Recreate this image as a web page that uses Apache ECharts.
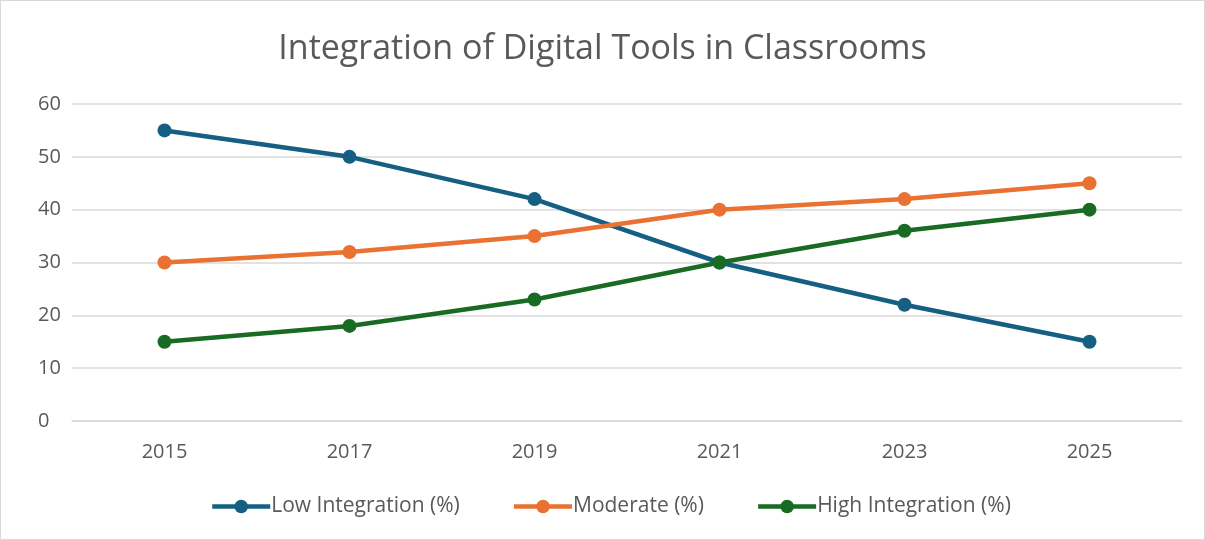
<!DOCTYPE html>
<html>
<head>
<meta charset="utf-8">
<script src="https://cdn.jsdelivr.net/npm/echarts@6/dist/echarts.min.js"></script>
<style>
  html, body { margin: 0; padding: 0; background: #fff; }
  #main { width: 1203px; height: 538px; border: 1px solid #d9d9d9; }
</style>
</head>
<body>
<div id="main"></div>
<script>
var years = ['2015', '2017', '2019', '2021', '2023', '2025'];
var lowIntegration = [55, 50, 42, 30, 22, 15];
var moderate = [30, 32, 35, 40, 42, 45];
var highIntegration = [15, 18, 23, 30, 36, 40];

var chartDom = document.getElementById('main');
var myChart = echarts.init(chartDom);

function lineSeries(name, data, color) {
    return {
        name: name,
        type: 'line',
        data: data,
        symbol: 'circle',
        symbolSize: 14,
        itemStyle: { color: color },
        lineStyle: { width: 4.5, color: color },
        animation: false
    };
}

var option = {
    textStyle: { fontFamily: 'Open Sans' },
    title: {
        text: 'Integration of Digital Tools in Classrooms',
        left: 'center',
        top: 26,
        textStyle: { fontSize: 34, fontWeight: 'normal', color: '#595959', fontFamily: 'Open Sans' }
    },
    legend: {
        bottom: 17,
        left: 204,
        itemWidth: 58,
        itemHeight: 17,
        itemGap: 52,
        lineStyle: { width: 4.5 },
        textStyle: { fontSize: 21, color: '#595959', padding: [0, 0, 0, -4] },
        data: ['Low Integration (%)', 'Moderate (%)', 'High Integration (%)']
    },
    grid: { left: 71, right: 22, top: 103, bottom: 118 },
    xAxis: {
        type: 'category',
        data: years,
        boundaryGap: true,
        axisLine: { lineStyle: { color: '#d9d9d9', width: 1.5 } },
        axisTick: { show: false },
        axisLabel: { fontSize: 20, color: '#595959', margin: 21 }
    },
    yAxis: {
        type: 'value',
        min: 0,
        max: 60,
        interval: 10,
        axisLine: { show: false },
        axisTick: { show: false },
        splitLine: { lineStyle: { color: '#d9d9d9', width: 1.5 } },
        axisLabel: { fontSize: 20, color: '#595959', margin: 34, align: 'left' }
    },
    series: [
        lineSeries('Low Integration (%)', lowIntegration, '#156082'),
        lineSeries('Moderate (%)', moderate, '#E97132'),
        lineSeries('High Integration (%)', highIntegration, '#196B24')
    ]
};
myChart.setOption(option);
</script>
</body>
</html>
